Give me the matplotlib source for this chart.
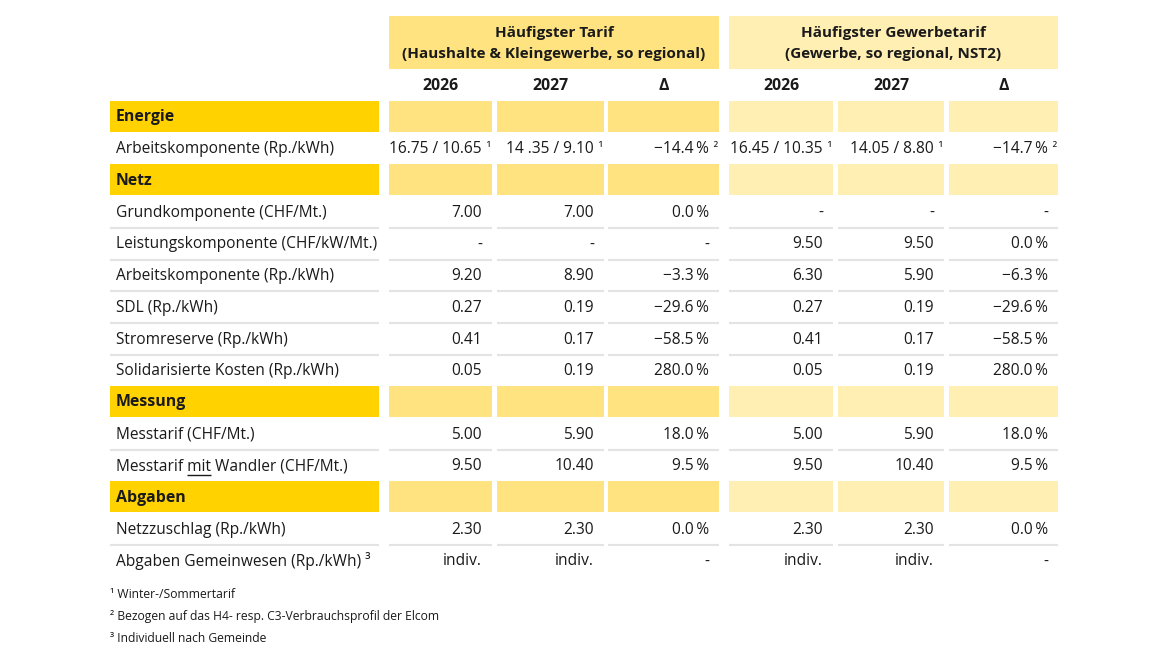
import matplotlib
matplotlib.use("Agg")
import matplotlib.pyplot as plt
from matplotlib.patches import Rectangle
from matplotlib.font_manager import FontProperties

plt.rcParams['font.family'] = ["Open Sans", "DejaVu Sans"]

# ---------------- data ----------------
group_titles = ["Häufigster Tarif\n(Haushalte & Kleingewerbe, so regional)",
                "Häufigster Gewerbetarif\n(Gewerbe, so regional, NST2)"]
column_heads = ["2026", "2027", "Δ"]

row_labels = ["Energie",
              "Arbeitskomponente (Rp./kWh)",
              "Netz",
              "Grundkomponente (CHF/Mt.)",
              "Leistungskomponente (CHF/kW/Mt.)",
              "Arbeitskomponente (Rp./kWh)",
              "SDL (Rp./kWh)",
              "Stromreserve (Rp./kWh)",
              "Solidarisierte Kosten (Rp./kWh)",
              "Messung",
              "Messtarif (CHF/Mt.)",
              "Messtarif mit Wandler (CHF/Mt.)",
              "Abgaben",
              "Netzzuschlag (Rp./kWh)",
              "Abgaben Gemeinwesen (Rp./kWh) ³"]
is_section = [True, False, True, False, False, False, False, False, False,
              True, False, False, True, False, False]

P = "\u2009%"
tarif_2026 = ["", "16.75 / 10.65¹", "", "7.00", "-", "9.20", "0.27", "0.41", "0.05",
              "", "5.00", "9.50", "", "2.30", "indiv."]
tarif_2027 = ["", "14 .35 / 9.10¹", "", "7.00", "-", "8.90", "0.19", "0.17", "0.19",
              "", "5.90", "10.40", "", "2.30", "indiv."]
tarif_delta = ["", "−14.4" + P + "²", "", "0.0" + P, "-", "−3.3" + P, "−29.6" + P,
               "−58.5" + P, "280.0" + P, "", "18.0" + P, "9.5" + P, "", "0.0" + P, "-"]
gewerbe_2026 = ["", "16.45 / 10.35¹", "", "-", "9.50", "6.30", "0.27", "0.41", "0.05",
                "", "5.00", "9.50", "", "2.30", "indiv."]
gewerbe_2027 = ["", "14.05 / 8.80¹", "", "-", "9.50", "5.90", "0.19", "0.17", "0.19",
                "", "5.90", "10.40", "", "2.30", "indiv."]
gewerbe_delta = ["", "−14.7" + P + "²", "", "-", "0.0" + P, "−6.3" + P, "−29.6" + P,
                 "−58.5" + P, "280.0" + P, "", "18.0" + P, "9.5" + P, "", "0.0" + P, "-"]

footnotes = ["¹ Winter-/Sommertarif",
             "² Bezogen auf das H4- resp. C3-Verbrauchsprofil der Elcom",
             "³ Individuell nach Gemeinde"]

underlined_row = "Messtarif mit Wandler (CHF/Mt.)"
underlined_word = "mit"

# ---------------- layout / style ----------------
W, H = 1168, 657
fig = plt.figure(figsize=(W / 100, H / 100), dpi=100)
ax = fig.add_axes([0, 0, 1, 1])
ax.set_xlim(0, W)
ax.set_ylim(H, 0)
ax.axis("off")

TXT = "#1a1a1a"
C_SECTION = "#FFD200"
C_G1 = "#FFE380"
C_G2 = "#FFEFB3"
C_LINE = "#E3E3E3"
FS = 11.2
FSB = 11.4
FSH = 11.0

label_x0, label_x1 = 110, 379
cols = [[(389, 492), (497, 604), (608, 719)],
        [(729, 833), (838, 944), (949, 1058)]]
group_fill = [C_G1, C_G2]
group_data = [[tarif_2026, tarif_2027, tarif_delta],
              [gewerbe_2026, gewerbe_2027, gewerbe_delta]]

row_top0 = 101
pitch = 31.7
sec_h = 31

# header boxes
for g in range(2):
    x0 = cols[g][0][0]
    x1 = cols[g][-1][1]
    ax.add_patch(Rectangle((x0, 16), x1 - x0, 53, color=group_fill[g], lw=0))
    ax.text((x0 + x1) / 2, 43.5, group_titles[g], ha="center", va="center",
            fontsize=FSH, fontweight="bold", color=TXT, linespacing=1.6)
    for c, (a, b) in enumerate(cols[g]):
        ax.text((a + b) / 2, 86, column_heads[c], ha="center", va="center",
                fontsize=FSB, fontweight="bold", color=TXT)

sups = "¹²³"
fig.canvas.draw()
renderer = fig.canvas.get_renderer()
prop = FontProperties(family=["Open Sans", "DejaVu Sans"], size=FS)


def text_w(s):
    w, h, d = renderer.get_text_width_height_descent(s, prop, ismath=False)
    return w


for i, lab in enumerate(row_labels):
    top = row_top0 + i * pitch
    yc = top + pitch / 2 + 0.8
    if is_section[i]:
        ax.add_patch(Rectangle((label_x0, top), label_x1 - label_x0, sec_h,
                               color=C_SECTION, lw=0))
        for g in range(2):
            for (a, b) in cols[g]:
                ax.add_patch(Rectangle((a, top), b - a, sec_h,
                                       color=group_fill[g], lw=0))
        ax.text(label_x0 + 6, yc - 0.5, lab, ha="left", va="center", fontsize=FSB,
                fontweight="bold", color=TXT)
        continue
    ax.text(label_x0 + 6, yc, lab, ha="left", va="center", fontsize=FS,
            color=TXT)
    if lab == underlined_row:
        k = lab.index(underlined_word) + len(underlined_word)
        xe = label_x0 + 6 + text_w(lab[:k])
        xs = xe - text_w(underlined_word)
        ax.plot([xs, xe], [yc + 9, yc + 9], color=TXT, lw=1.0,
                solid_capstyle="butt")
    for g in range(2):
        for c, (a, b) in enumerate(cols[g]):
            val = group_data[g][c][i]
            sup = ""
            if val and val[-1] in sups:
                sup = val[-1]
                val = val[:-1]
            ax.text(b - 10, yc, val, ha="right", va="center", fontsize=FS,
                    color=TXT)
            if sup:
                ax.text(b - 9, yc - 1, " " + sup, ha="left", va="center",
                        fontsize=FS - 1.5, color=TXT)
    # separator line below if next row is data row
    if i + 1 < len(row_labels) and not is_section[i + 1]:
        yl = top + pitch
        ax.plot([label_x0, label_x1], [yl, yl], color=C_LINE, lw=1.5,
                solid_capstyle="butt")
        for g in range(2):
            for (a, b) in cols[g]:
                ax.plot([a, b], [yl, yl], color=C_LINE, lw=1.5,
                        solid_capstyle="butt")

for j, fn in enumerate(footnotes):
    ax.text(label_x0, 595 + j * 21.5, fn, ha="left", va="center",
            fontsize=8.7, color=TXT)

fig.savefig("out.png", dpi=100)
